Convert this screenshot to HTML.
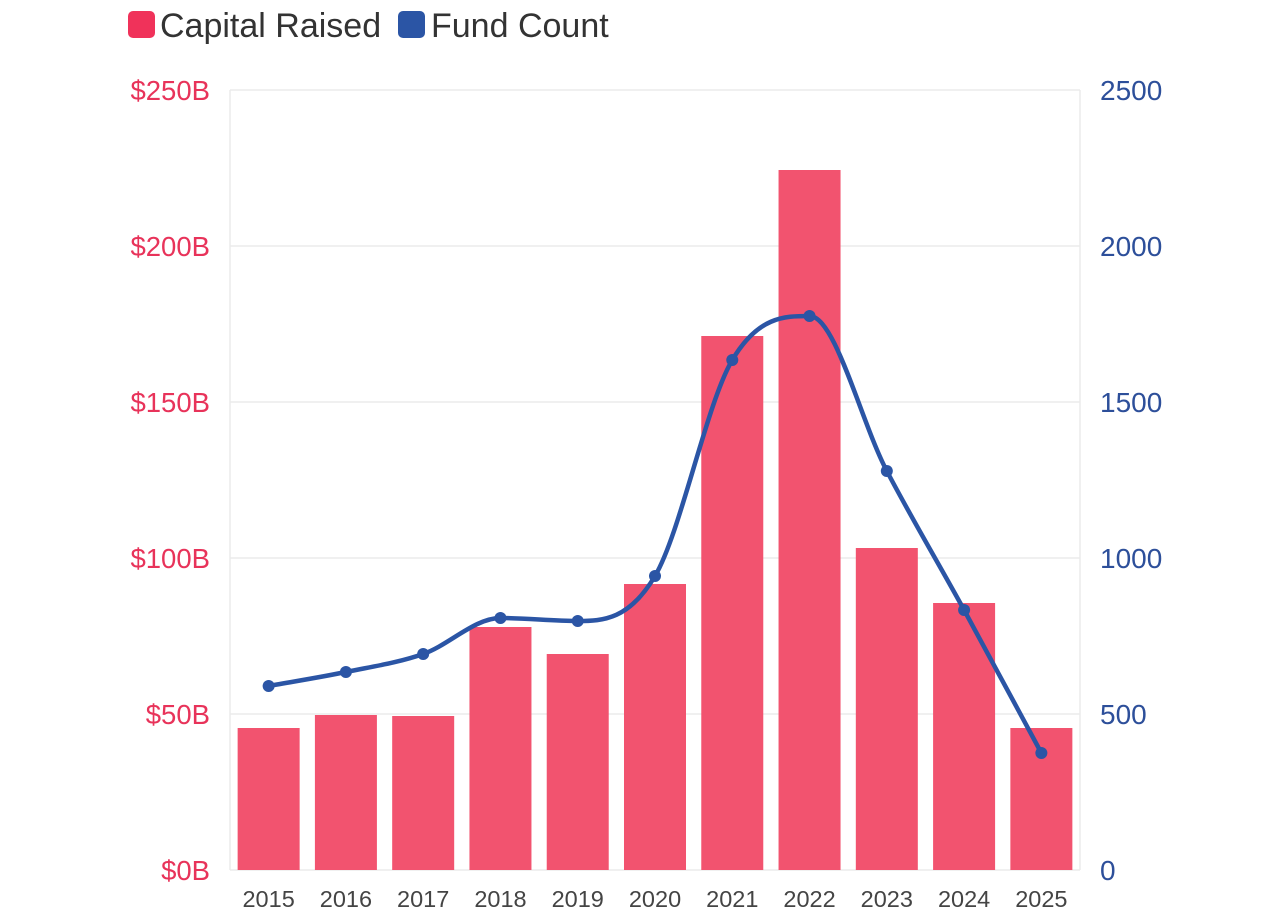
<!DOCTYPE html>
<html><head><meta charset="utf-8"><style>
html,body{margin:0;padding:0;background:#fff;width:1268px;height:915px;overflow:hidden}
svg{display:block;font-family:"Liberation Sans",sans-serif}
</style></head><body>
<svg id="c" width="1268" height="915" xmlns="http://www.w3.org/2000/svg">
<rect x="128" y="11" width="27" height="27" rx="5" fill="#f0325a"/>
<text x="160" y="37" font-size="34" fill="#333">Capital Raised</text>
<rect x="398" y="11" width="27" height="27" rx="5" fill="#2b55a5"/>
<text x="431" y="37" font-size="34" fill="#333">Fund Count</text>
<g id="grid"></g><g id="bars"></g><path id="line" fill="none" stroke="#2b55a5" stroke-width="4.5"/><g id="pts"></g><g id="lbl"></g>
</svg>
<script>
var ns="http://www.w3.org/2000/svg";
function el(p,t,a,txt){var e=document.createElementNS(ns,t);for(var k in a)e.setAttribute(k,a[k]);if(txt!=null)e.textContent=txt;document.getElementById(p).appendChild(e);return e;}
var L=230,R=1080,T=90,B=870;
for(var i=0;i<=5;i++){var y=B-i*156;
el("grid","line",{x1:L,x2:R,y1:y,y2:y,stroke:"#ebebeb","stroke-width":1.5});
el("lbl","text",{x:210,y:y+10,"text-anchor":"end","font-size":27.5,fill:"#e8335a"},"$"+(i*50)+"B");
el("lbl","text",{x:1100,y:y+10,"font-size":28,fill:"#2d4f9a"},String(i*500));}
el("grid","line",{x1:L,x2:L,y1:T,y2:B,stroke:"#ebebeb","stroke-width":1.5});
el("grid","line",{x1:R,x2:R,y1:T,y2:B,stroke:"#ebebeb","stroke-width":1.5});
var bt=[728,715,716,627,654,584,336,170,548,603,728];
var ly=[686,672,654,618,621,576,360,316,471,610,753];
var step=(R-L)/11,xs=[];
for(var i=0;i<11;i++){var cx=L+step/2+i*step;xs.push(cx);
el("bars","rect",{x:cx-31,y:bt[i],width:62,height:B-bt[i],fill:"#f2536f"});
el("lbl","text",{x:cx,y:907,"text-anchor":"middle","font-size":23.5,fill:"#444"},String(2015+i));}
var n=11,d=[],m=[];
for(var i=0;i<n-1;i++)d.push((ly[i+1]-ly[i])/step);
m[0]=d[0];m[n-1]=d[n-2];
for(var i=1;i<n-1;i++){m[i]=(d[i-1]*d[i]<=0)?0:(d[i-1]+d[i])/2;}
for(var i=0;i<n-1;i++){if(d[i]==0){m[i]=m[i+1]=0;continue;}var a=m[i]/d[i],b=m[i+1]/d[i],s=a*a+b*b;if(s>9){var t=3/Math.sqrt(s);m[i]=t*a*d[i];m[i+1]=t*b*d[i];}}
var p="M"+xs[0]+","+ly[0];
for(var i=0;i<n-1;i++){var h=step/3;p+=" C"+(xs[i]+h)+","+(ly[i]+m[i]*h)+" "+(xs[i+1]-h)+","+(ly[i+1]-m[i+1]*h)+" "+xs[i+1]+","+ly[i+1];}
document.getElementById("line").setAttribute("d",p);
for(var i=0;i<n;i++)el("pts","circle",{cx:xs[i],cy:ly[i],r:6,fill:"#2b55a5"});
</script>
</body></html>
